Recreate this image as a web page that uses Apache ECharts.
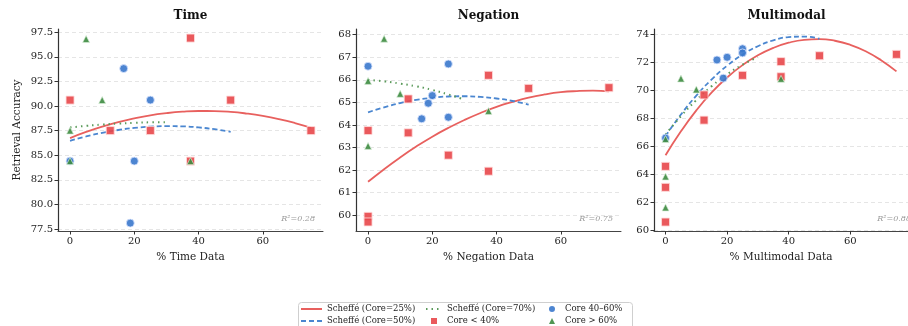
<!DOCTYPE html>
<html><head><meta charset="utf-8">
<script src="https://cdn.jsdelivr.net/npm/echarts@6/dist/echarts.min.js"></script>
<style>html,body{margin:0;padding:0;background:#fff}#c{width:908px;height:326px}</style>
</head><body><div id="c"></div>
<script>
// ---------- DATA ----------
const panelTitles = ['Time', 'Negation', 'Multimodal'];
const xAxisNames = ['% Time Data', '% Negation Data', '% Multimodal Data'];
const r2Labels = ['R\u00b2=0.28', 'R\u00b2=0.75', 'R\u00b2=0.88'];
const xTicks = [0, 20, 40, 60];
const yTicksTime = [77.5, 80, 82.5, 85, 87.5, 90, 92.5, 95, 97.5];
const yTicksNeg = [60, 61, 62, 63, 64, 65, 66, 67, 68];
const yTicksMulti = [60, 62, 64, 66, 68, 70, 72, 74];
const yLabelFmt = [v => v.toFixed(1), v => String(v), v => String(v)];

// scatter points [x %, accuracy]
const timeLow  = [[0,90.6],[12.5,87.5],[25,87.5],[37.5,96.9],[37.5,84.4],[50,90.6],[75,87.5]];
const timeMid  = [[0,84.4],[16.7,93.8],[18.75,78.1],[20,84.4],[25,90.6]];
const timeHigh = [[0,87.5],[0,84.4],[5,96.8],[10,90.6],[37.5,84.4]];

const negLow  = [[0,63.75],[0,59.95],[0,59.7],[12.5,65.15],[12.5,63.65],[25,62.66],[37.5,66.2],[37.5,61.95],[50,65.62],[75,65.65]];
const negMid  = [[0,66.6],[16.7,64.27],[18.75,64.96],[20,65.3],[25,66.7],[25,64.34]];
const negHigh = [[0,65.95],[0,63.07],[5,67.82],[10,65.38],[37.5,64.62]];

const mmLow  = [[0,64.6],[0,63.1],[0,60.62],[12.5,69.7],[12.5,67.9],[25,71.1],[37.5,72.08],[37.5,71.0],[50,72.5],[75,72.6]];
const mmMid  = [[0,66.62],[16.7,72.2],[18.75,70.9],[20,72.39],[25,73.0],[25,72.7]];
const mmHigh = [[0,66.55],[0,63.87],[0,61.66],[5,70.87],[10,70.09],[37.5,70.85]];

// Scheffé fit curves
const curveX25 = [0,5,10,15,20,25,30,35,40,45,50,55,60,65,70,75];
const curveX50 = [0,5,10,15,20,25,30,35,40,45,50];
const curveX70 = [0,5,10,15,20,25,30];

const time25 = [86.74,87.36,87.90,88.36,88.74,89.05,89.27,89.42,89.49,89.48,89.40,89.23,88.99,88.67,88.27,87.79];
const time50 = [86.46,86.90,87.27,87.56,87.77,87.90,87.95,87.93,87.82,87.64,87.38];
const time70 = [87.82,87.98,88.11,88.21,88.29,88.34,88.36];

const neg25 = [61.48,62.04,62.56,63.04,63.48,63.87,64.22,64.53,64.80,65.02,65.21,65.35,65.45,65.50,65.52,65.49];
const neg50 = [64.56,64.78,64.97,65.11,65.20,65.26,65.27,65.24,65.17,65.06,64.90];
const neg70 = [66.00,65.93,65.83,65.71,65.55,65.35,65.12];

const mm25 = [65.39,67.10,68.60,69.88,70.95,71.83,72.53,73.06,73.43,73.64,73.69,73.57,73.28,72.82,72.18,71.38];
const mm50 = [66.76,68.30,69.65,70.81,71.79,72.58,73.18,73.60,73.83,73.87,73.72];
const mm70 = [66.88,68.18,69.33,70.33,71.17,71.86,72.40];

// ---------- CHART ----------
const FONT = 'DejaVu Serif';
const C_LOW = '#e8474a', C_MID = '#3a78cc', C_HIGH = '#3d8b40';
const L25 = '#e8605e', L50 = '#4a86d0', L70 = '#5a9a5a';
const N25 = 'Scheff\u00e9 (Core=25%)', N50 = 'Scheff\u00e9 (Core=50%)', N70 = 'Scheff\u00e9 (Core=70%)';
const NLOW = 'Core < 40%', NMID = 'Core 40\u201360%', NHIGH = 'Core > 60%';

const gridLefts = [58, 356, 654];
const GW = 265, GT = 29, GH = 202;
const yRanges = [[77.3, 97.82], [59.3, 68.25], [59.98, 74.41]];
const yTicks = [yTicksTime, yTicksNeg, yTicksMulti];
const scat = [[timeLow, timeMid, timeHigh], [negLow, negMid, negHigh], [mmLow, mmMid, mmHigh]];
const curves = [[time25, time50, time70], [neg25, neg50, neg70], [mm25, mm50, mm70]];

const pair = (xs, ys) => ys.map((v, i) => [xs[i], v]);

const grid = [], xAxis = [], yAxis = [], series = [], graphic = [];
for (let p = 0; p < 3; p++) {
  grid.push({left: gridLefts[p], top: GT, width: GW, height: GH});
  xAxis.push({
    type: 'value', gridIndex: p, min: -3.75, max: 78.75,
    name: xAxisNames[p], nameLocation: 'middle', nameGap: 21,
    nameTextStyle: {fontFamily: FONT, fontSize: 10.5, color: '#222'},
    axisLine: {show: true, onZero: false, lineStyle: {color: '#444', width: 1}},
    axisTick: {show: true, length: 3.5, customValues: xTicks, lineStyle: {color: '#333'}},
    axisLabel: {customValues: xTicks, fontFamily: FONT, fontSize: 10, color: '#222', margin: 5},
    splitLine: {show: false}
  });
  yAxis.push({
    type: 'value', gridIndex: p, min: yRanges[p][0], max: yRanges[p][1],
    name: p === 0 ? 'Retrieval Accuracy' : '', nameLocation: 'middle', nameGap: 35, nameRotate: 90,
    nameTextStyle: {fontFamily: FONT, fontSize: 10.5, color: '#222'},
    axisLine: {show: true, onZero: false, lineStyle: {color: '#333', width: 1.2}},
    axisTick: {show: true, length: 3.5, customValues: yTicks[p], lineStyle: {color: '#333'}},
    axisLabel: {customValues: yTicks[p], fontFamily: FONT, fontSize: 10, color: '#222', margin: 5,
                formatter: yLabelFmt[p]},
    splitLine: {show: true, lineStyle: {color: '#dedede', width: 0.8, type: [4, 3]}}
  });

  const [c25, c50, c70] = curves[p];
  // envelope band over 0..30
  const lower = curveX70.map((x, i) => Math.min(c25[i], c50[i], c70[i]));
  const upper = curveX70.map((x, i) => Math.max(c25[i], c50[i], c70[i]));
  series.push({type: 'line', xAxisIndex: p, yAxisIndex: p, stack: 'band' + p, symbol: 'none', silent: true,
    data: pair(curveX70, lower), lineStyle: {opacity: 0}, z: 1, smooth: true});
  series.push({type: 'line', xAxisIndex: p, yAxisIndex: p, stack: 'band' + p, symbol: 'none', silent: true,
    data: pair(curveX70, upper.map((u, i) => u - lower[i])), lineStyle: {opacity: 0},
    areaStyle: {color: 'rgba(0,0,0,0.05)', opacity: 1}, z: 1, smooth: true});

  series.push({name: N25, type: 'line', xAxisIndex: p, yAxisIndex: p, symbol: 'none', smooth: true, z: 3,
    data: pair(curveX25, c25), lineStyle: {color: L25, width: 1.8}, itemStyle: {color: L25}});
  series.push({name: N50, type: 'line', xAxisIndex: p, yAxisIndex: p, symbol: 'none', smooth: true, z: 3,
    data: pair(curveX50, c50), lineStyle: {color: L50, width: 1.8, type: [5, 3]}, itemStyle: {color: L50}});
  series.push({name: N70, type: 'line', xAxisIndex: p, yAxisIndex: p, symbol: 'none', smooth: true, z: 3,
    data: pair(curveX70, c70), lineStyle: {color: L70, width: 2, type: [1.5, 4]}, itemStyle: {color: L70}});

  const [lo, mid, hi] = scat[p];
  series.push({name: NLOW, type: 'scatter', xAxisIndex: p, yAxisIndex: p, symbol: 'rect', symbolSize: 8, z: 4,
    data: lo, itemStyle: {color: C_LOW, opacity: 0.9, borderColor: 'rgba(255,220,220,0.9)', borderWidth: 1}});
  series.push({name: NMID, type: 'scatter', xAxisIndex: p, yAxisIndex: p, symbol: 'circle', symbolSize: 8, z: 5,
    data: mid, itemStyle: {color: C_MID, opacity: 0.9, borderColor: 'rgba(220,230,255,0.9)', borderWidth: 1}});
  series.push({name: NHIGH, type: 'scatter', xAxisIndex: p, yAxisIndex: p, symbol: 'triangle', symbolSize: 7, z: 6,
    data: hi, itemStyle: {color: C_HIGH, opacity: 0.9, borderColor: 'rgba(220,240,220,0.9)', borderWidth: 0.8}});

  graphic.push({type: 'text', z: 10, style: {text: panelTitles[p], x: gridLefts[p] + GW / 2, y: 16,
    align: 'center', verticalAlign: 'middle', font: 'bold 12px "DejaVu Serif"', fill: '#111'}});
  graphic.push({type: 'text', z: 10, style: {text: r2Labels[p], x: gridLefts[p] + GW * 0.97, y: 219,
    align: 'right', verticalAlign: 'middle', font: 'italic 8px "DejaVu Serif"', fill: '#9a9a9a'}});
}

graphic.push({type: 'rect', z: -10, silent: true, shape: {x: 298.5, y: 302.5, width: 334, height: 40, r: 3},
  style: {fill: '#fff', stroke: '#cfcfcf', lineWidth: 1}});

const hideSym = {opacity: 0, color: 'transparent', borderWidth: 0};
const SQ = 'path://M0,0L10,0L10,10L0,10Z';
const TRI = 'path://M5,0L10,10L0,10Z';
const DOT = 'path://M5,0A5,5,0,1,1,4.99,0Z';
const legendBase = {orient: 'vertical', top: 304, itemGap: 2, itemHeight: 6, padding: 0, z: 20,
  symbolKeepAspect: true,
  textStyle: {fontFamily: 'DejaVu Serif', fontSize: 8.5, color: '#222', lineHeight: 10}};

const option = {
  animation: false,
  backgroundColor: '#fff',
  grid, xAxis, yAxis, series, graphic,
  legend: [
    Object.assign({}, legendBase, {left: 300, itemWidth: 21,
      data: [{name: N25, itemStyle: hideSym}, {name: N50, itemStyle: hideSym}]}),
    Object.assign({}, legendBase, {left: 425, itemWidth: 16,
      data: [{name: N70, itemStyle: hideSym}, {name: NLOW, icon: SQ, itemStyle: {borderWidth: 0, opacity: 0.9}}]}),
    Object.assign({}, legendBase, {left: 549, itemWidth: 16,
      data: [{name: NMID, icon: DOT, itemStyle: {borderWidth: 0}}, {name: NHIGH, icon: TRI, itemStyle: {borderWidth: 0}}]})
  ]
};
const chart = echarts.init(document.getElementById('c'));
chart.setOption(option);
</script></body></html>
